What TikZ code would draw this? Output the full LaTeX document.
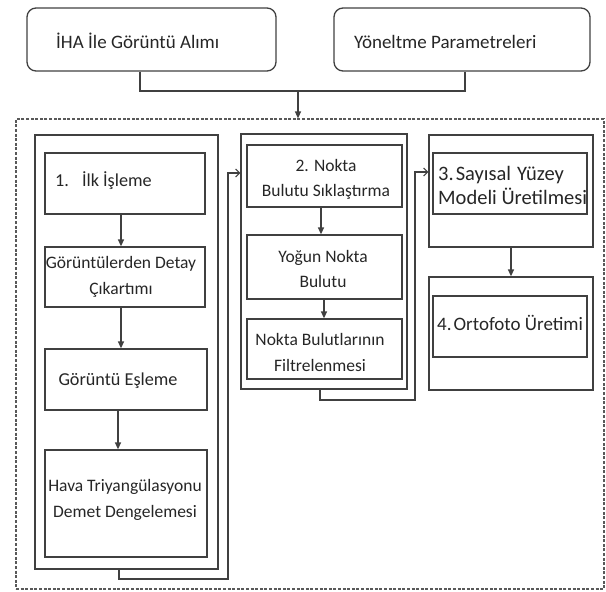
\documentclass[tikz,border=0pt]{standalone}
\usepackage{fontspec}
\setmainfont{Carlito}
\usetikzlibrary{arrows.meta}
\begin{document}
\begin{tikzpicture}[x=1pt,y=-1pt,
  box/.style={draw=black!75,line width=1.3pt,rectangle,inner sep=0pt},
  rbox/.style={box,rounded corners=9pt},
  dbox/.style={draw=black!65,line width=1.2pt,dash pattern=on 3pt off 1.6pt,rectangle,inner sep=0pt},
  txt/.style={inner sep=0pt,font=\fontsize{17.5}{25.5}\selectfont,text=black!85},
  toptxt/.style={txt,font=\fontsize{19}{25}\selectfont},
  ln/.style={draw=black!75,line width=1.3pt},
  arr/.style={ln,-{Triangle[length=7pt,width=6pt]}},
  oarr/.style={ln,-{Straight Barb[length=4pt,width=8pt,line width=1.1pt]}}
]
\useasboundingbox (0,0) rectangle (606,592);
% top boxes
\node[rbox,minimum width=249pt,minimum height=63pt] (top1) at (151.5,39.5) {};
\node[rbox,minimum width=256pt,minimum height=63pt] (top2) at (462,39.5) {};
\node[toptxt,anchor=west] (t1) at (56,41) {İHA İle Görüntü Alımı};
\node[toptxt,anchor=west] (t2) at (354,42) {Yöneltme Parametreleri};
% dashed frame
\node[dbox,minimum width=588pt,minimum height=470pt] (dash) at (310,354) {};
% group 1
\node[box,minimum width=183pt,minimum height=434pt] (g1) at (126.5,352) {};
\node[box,minimum width=160pt,minimum height=61pt] (b11) at (125,183.5) {};
\node[box,minimum width=160pt,minimum height=60pt] (b12) at (125,277) {};
\node[box,minimum width=162pt,minimum height=61pt] (b13) at (126,379.5) {};
\node[box,minimum width=162pt,minimum height=107pt] (b14) at (126,503.5) {};
\node[txt,anchor=west,font=\fontsize{18.2}{25.5}\selectfont] (l11) at (55,181) {1.\hspace{13pt}İlk İşleme};
\node[txt,align=center] (l12) at (121,277) {Görüntülerden Detay\\Çıkartımı};
\node[txt,font=\fontsize{18.2}{25.5}\selectfont] (l13) at (118,381) {Görüntü Eşleme};
\node[txt,align=center] (l14) at (125,500) {Hava Triyangülasyonu\\Demet Dengelemesi};
% group 2
\node[box,minimum width=166pt,minimum height=255pt] (g2) at (324,261.5) {};
\node[box,minimum width=155pt,minimum height=62pt] (b21) at (324.5,176) {};
\node[box,minimum width=155pt,minimum height=64pt] (b22) at (324.5,267) {};
\node[box,minimum width=155pt,minimum height=60pt] (b23) at (324.5,349) {};
\node[txt,align=center] (l21) at (326,179.5) {2. Nokta\\Bulutu Sıklaştırma};
\node[txt,align=center] (l22) at (323,269) {Yoğun Nokta\\Bulutu};
\node[txt,align=center] (l23) at (320,352.5) {Nokta Bulutlarının\\Filtrelenmesi};
% group 3 and 4
\node[box,minimum width=164pt,minimum height=112pt] (g3) at (511,191) {};
\node[box,minimum width=154pt,minimum height=61pt] (b31) at (510,183.5) {};
\node[txt,align=left,anchor=west,font=\fontsize{20.5}{23.5}\selectfont] (l31) at (438,185.5) {3.\hspace{2pt}Sayısal\hspace{6pt}Yüzey\\Modeli Üretilmesi};
\node[box,minimum width=164pt,minimum height=113pt] (g4) at (511,333.5) {};
\node[box,minimum width=154pt,minimum height=61pt] (b41) at (510,326.5) {};
\node[txt,anchor=west,font=\fontsize{19}{24}\selectfont] (l41) at (437,323) {4.\hspace{2pt}Ortofoto Üretimi};
% connectors
\coordinate (j) at (298,91);
\draw[ln] ([xshift=-11.5pt]top1.south) |- (j);
\draw[ln] ([xshift=3pt]top2.south) |- (j);
\draw[arr] (j) -- (j |- dash.north);
\draw[arr] ([xshift=-4pt]b11.south) -- ([xshift=-4pt]b12.north);
\draw[arr] ([xshift=-4pt]b12.south) -- ([xshift=-5pt]b13.north);
\draw[arr] ([xshift=-8pt]b13.south) -- ([xshift=-8pt]b14.north);
\draw[arr] ([xshift=-3.5pt]b21.south) -- ([xshift=-3.5pt]b22.north);
\draw[arr] ([xshift=-0.5pt]b22.south) -- ([xshift=-0.5pt]b23.north);
\draw[arr] (g3.south) -- (g4.north);
\coordinate (p1) at (228,579);
\draw[oarr] ([xshift=-7.5pt]g1.south) |- (p1) |- ([yshift=88.5pt]g2.west);
\coordinate (p2) at (415,400);
\draw[oarr] ([xshift=-4pt]g2.south) |- (p2) |- ([yshift=19pt]g3.west);
\end{tikzpicture}
\end{document}
